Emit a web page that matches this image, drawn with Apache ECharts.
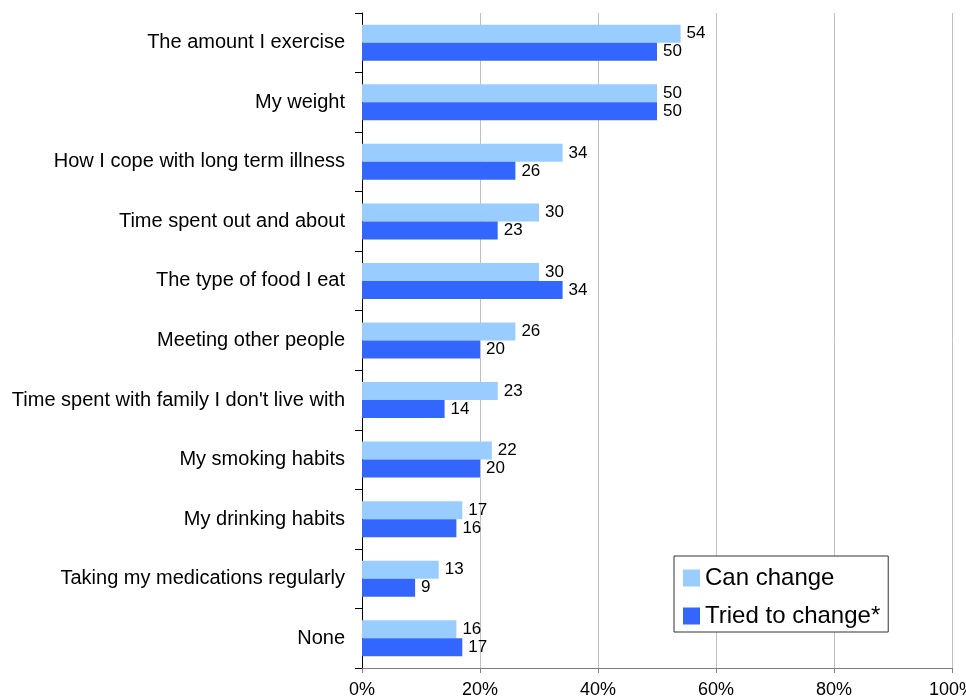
<!DOCTYPE html>
<html>
<head>
<meta charset="utf-8">
<script src="https://cdn.jsdelivr.net/npm/echarts@6/dist/echarts.min.js"></script>
<style>html,body{margin:0;padding:0;background:#fff;}#c{width:966px;height:700px;}</style>
</head>
<body>
<div id="c"></div>
<script>
const categories = ["The amount I exercise","My weight","How I cope with long term illness","Time spent out and about","The type of food I eat","Meeting other people","Time spent with family I don't live with","My smoking habits","My drinking habits","Taking my medications regularly","None"];
const canChange = [54,50,34,30,30,26,23,22,17,13,16];
const triedToChange = [50,50,26,23,34,20,14,20,16,9,17];
const xTicks = [0,20,40,60,80,100];

const chart = echarts.init(document.getElementById('c'));
const font = 'Liberation Sans, Arial, sans-serif';
const labelCfg = {show:true, position:'right', distance:6, color:'#000', fontSize:17, fontFamily:font};
chart.setOption({
  animation:false,
  textStyle:{fontFamily:font},
  grid:{left:362, right:14, top:13, bottom:32, containLabel:false, outerBoundsMode:'none'},
  legend:{
    orient:'vertical', left:674, top:556,
    data:['Can change','Tried to change*'],
    icon:'rect', itemWidth:17, itemHeight:17, itemGap:14,
    padding:[10,8,4,9],
    borderColor:'#333', borderWidth:1, backgroundColor:'#fff',
    textStyle:{fontSize:24, color:'#000', fontFamily:font}
  },
  xAxis:{
    type:'value', min:xTicks[0], max:xTicks[xTicks.length-1], interval:20,
    axisLine:{show:true, lineStyle:{color:'#808080', width:1}},
    axisTick:{show:true, length:5, lineStyle:{color:'#808080'}},
    axisLabel:{formatter:'{value}%', fontSize:18, color:'#000', margin:13, fontFamily:font},
    splitLine:{show:true, lineStyle:{color:'#c0c0c0', width:1}}
  },
  yAxis:{
    type:'category', data:categories, inverse:true,
    axisLine:{show:true, lineStyle:{color:'#000', width:1}},
    axisTick:{show:true, length:7, lineStyle:{color:'#000'}},
    axisLabel:{fontSize:20, color:'#000', margin:17, fontFamily:font}
  },
  series:[
    {name:'Can change', type:'bar', data:canChange, barWidth:18, barGap:'0%', itemStyle:{color:'#99CCFF'}, label:labelCfg},
    {name:'Tried to change*', type:'bar', data:triedToChange, barWidth:18, barGap:'0%', itemStyle:{color:'#3366FF'}, label:labelCfg}
  ]
});
</script>
</body>
</html>
